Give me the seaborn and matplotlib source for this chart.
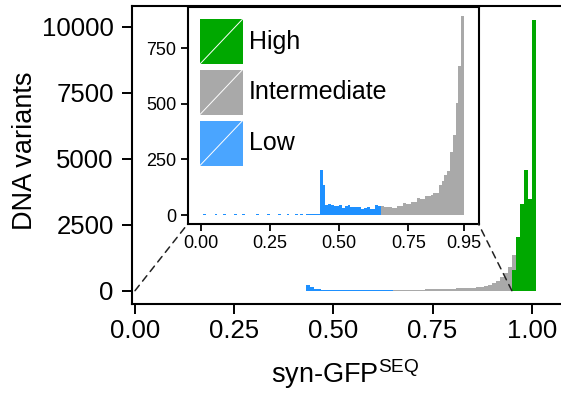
import numpy as np
import pandas as pd
import matplotlib
matplotlib.use("Agg")
import matplotlib.pyplot as plt
import seaborn as sns
from matplotlib.patches import Rectangle, ConnectionPatch
from matplotlib.lines import Line2D
from matplotlib.ticker import FormatStrFormatter

# ---------------- data (counts per 0.01-wide bin) ----------------
bin_width = 0.01
low_start = 0.00
low_counts = [2, 3, 1, 2, 1, 5, 2, 1, 3, 2,
              1, 2, 3, 2, 1, 3, 2, 2, 1, 2,
              3, 1, 2, 2, 3, 1, 2, 2, 3, 2,
              1, 3, 2, 2, 3, 1, 4, 2, 3, 6,
              6, 5, 6,
              202, 136, 46, 49, 43, 40, 40, 45, 30, 42,
              45, 35, 38, 35, 35, 26, 30, 35, 26, 29,
              43, 42]
inter_start = 0.65
inter_counts = [40, 38, 37, 34, 30, 30, 40, 40, 55, 48,
                48, 57, 57, 78, 72, 72, 87, 87, 90, 100,
                100, 135, 153, 180, 198, 285, 360, 503, 670, 895,
                1360]
high_start = 0.95
high_counts = [784, 2045, 3280, 4570, 3460, 10250]

group_names = ["High", "Intermediate", "Low"]
group_colors = {"High": "#00A800", "Intermediate": "#A9A9A9", "Low": "#1E90FF"}
legend_colors = {"High": "#00A800", "Intermediate": "#A9A9A9", "Low": "#4AA5FF"}

main_xticks = [0.00, 0.25, 0.50, 0.75, 1.00]
main_yticks = [0, 2500, 5000, 7500, 10000]
inset_xticks = [0.00, 0.25, 0.50, 0.75, 0.95]
inset_yticks = [0, 250, 500, 750]
inset_cut = 0.95

# ---------------- style ----------------
sns.set_style("ticks")
plt.rcParams["font.family"] = ["Liberation Sans", "DejaVu Sans"]
plt.rcParams["mathtext.fontset"] = "custom"
plt.rcParams["mathtext.rm"] = "Liberation Sans"
plt.rcParams["mathtext.it"] = "Liberation Sans:italic"
for key in ["axes.edgecolor", "text.color", "axes.labelcolor",
            "xtick.color", "ytick.color"]:
    plt.rcParams[key] = "black"

W, H = 561, 394
fig = plt.figure(figsize=(W / 100, H / 100), dpi=100)


def hist(ax, start, counts, color, upper=None):
    counts = np.asarray(counts, dtype=float)
    lefts = start + bin_width * np.arange(len(counts))
    if upper is not None:
        keep = lefts < upper - 1e-9
        lefts, counts = lefts[keep], counts[keep]
    df = pd.DataFrame({"x": lefts + bin_width / 2, "n": counts})
    lo = float(lefts[0])
    hi = float(lefts[-1] + bin_width)
    sns.histplot(data=df, x="x", weights="n", binwidth=bin_width,
                 binrange=(lo, hi), color=color, alpha=1, linewidth=0,
                 ax=ax)


# ---------------- main axes ----------------
L, R, T, B = 131.7, 563.0, 6.0, 304.0
ax = fig.add_axes([L / W, 1 - B / H, (R - L) / W, (B - T) / H])
hist(ax, inter_start, inter_counts, group_colors["Intermediate"])
hist(ax, high_start, high_counts, group_colors["High"])
hist(ax, low_start, low_counts, group_colors["Low"])

x0px, xscale = 135.0, 396.7
y0px, yscale = 290.7, 0.0264
ax.set_xlim((L - x0px) / xscale, (R - x0px) / xscale)
ax.set_ylim((y0px - B) / yscale, (y0px - T) / yscale)
ax.set_xticks(main_xticks)
ax.set_yticks(main_yticks)
ax.xaxis.set_major_formatter(FormatStrFormatter("%.2f"))
ax.tick_params(direction="out", length=7, width=1.4, labelsize=18.5,
               colors="black")
ax.tick_params(axis="y", pad=6)
ax.tick_params(axis="x", pad=4)
for s in ax.spines.values():
    s.set_linewidth(1.5)
ax.set_ylabel("DNA variants", fontsize=19.5)
ax.set_xlabel(r"syn-GFP$^{\mathrm{SEQ}}$", fontsize=19.5)
ax.yaxis.set_label_coords((38 - L) / (R - L), (B - 150.5) / (B - T))
ax.xaxis.set_label_coords((345.5 - L) / (R - L), -(357 - B) / (B - T))

# ---------------- inset ----------------
iL, iR, iT, iB = 187.7, 478.5, 7.0, 224.0
axi = fig.add_axes([iL / W, 1 - iB / H, (iR - iL) / W, (iB - iT) / H])
axi.set_facecolor("white")
hist(axi, inter_start, inter_counts, group_colors["Intermediate"], upper=inset_cut)
hist(axi, low_start, low_counts, group_colors["Low"], upper=inset_cut)
ix0, ixs = 200.7, 277.0
iy0, iys = 215.0, 0.2224
axi.set_xlim((iL - ix0) / ixs, (iR - ix0) / ixs)
axi.set_ylim((iy0 - iB) / iys, (iy0 - iT) / iys)
axi.set_xticks(inset_xticks)
axi.set_yticks(inset_yticks)
axi.xaxis.set_major_formatter(FormatStrFormatter("%.2f"))
axi.tick_params(direction="out", length=5, width=1.3, labelsize=13,
                pad=3, colors="black")
axi.set_xlabel("")
axi.set_ylabel("")
for s in axi.spines.values():
    s.set_linewidth(1.5)

# legend drawn inside inset (axes coords)
pw = 42.7 / (iR - iL)
ph = 45.0 / (iB - iT)
tops = [19.0, 69.5, 120.5]
for name, tpx in zip(group_names, tops):
    y1 = (iB - tpx) / (iB - iT)
    y0 = y1 - ph
    x0 = (200.0 - iL) / (iR - iL)
    axi.add_patch(Rectangle((x0, y0), pw, ph, transform=axi.transAxes,
                            facecolor=legend_colors[name], edgecolor="none",
                            zorder=5))
    axi.add_line(Line2D([x0, x0 + pw], [y0, y1], transform=axi.transAxes,
                        color="white", lw=0.7, zorder=6))
    axi.text((249.0 - iL) / (iR - iL), y0 + ph / 2, name,
             transform=axi.transAxes, fontsize=18, va="center", ha="left",
             zorder=6)

# dashed connectors
for xa, xb in [(0.0, 0.0), (inset_cut, 1.0)]:
    con = ConnectionPatch(xyA=(xa, 0), coordsA=ax.transData,
                          xyB=(xb, 0), coordsB=axi.transAxes,
                          linestyle=(0, (4.5, 3.5)), lw=1.1, color="#222222")
    fig.add_artist(con)

fig.savefig("out.png", dpi=100)
